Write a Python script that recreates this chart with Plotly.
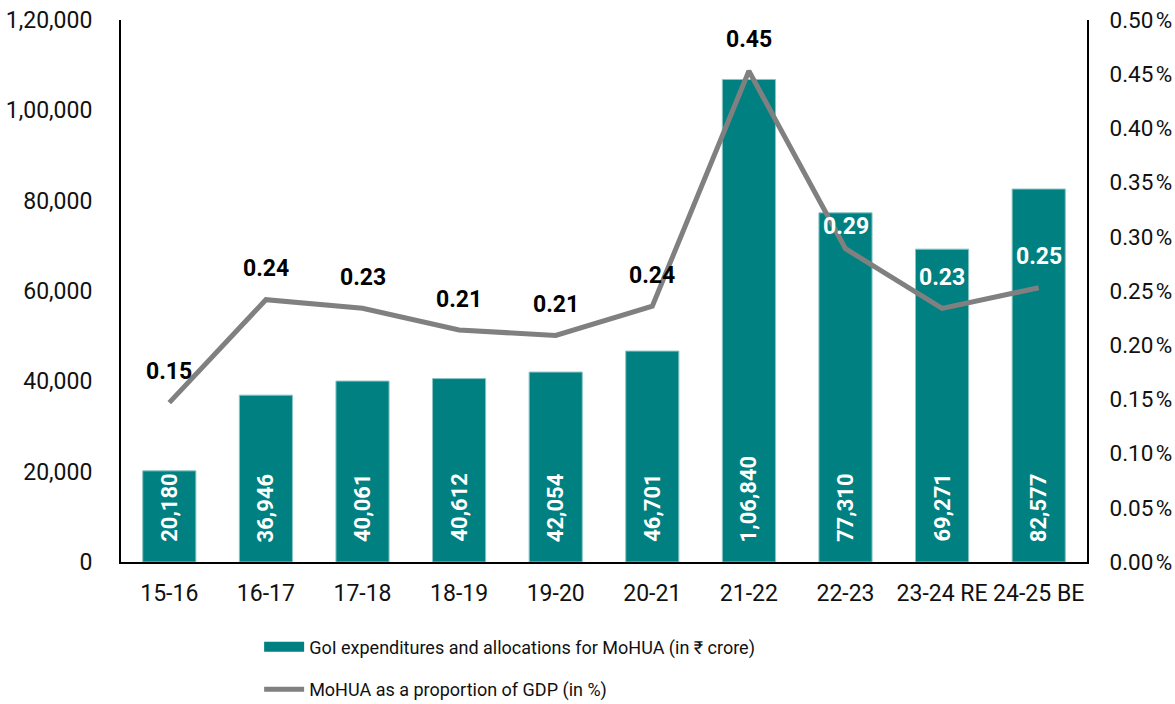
import plotly.graph_objects as go

categories = ["15-16", "16-17", "17-18", "18-19", "19-20", "20-21", "21-22", "22-23", "23-24 RE", "24-25 BE"]
expenditure = [20180, 36946, 40061, 40612, 42054, 46701, 106840, 77310, 69271, 82577]
expenditure_labels = ["20,180", "36,946", "40,061", "40,612", "42,054", "46,701", "1,06,840", "77,310", "69,271", "82,577"]
gdp_share = [0.147, 0.242, 0.234, 0.214, 0.209, 0.236, 0.453, 0.289, 0.234, 0.253]
label_colors = ["#000000"] * 7 + ["#ffffff"] * 3
label_shifts = [31, 31, 31, 31, 31, 31, 31, 22, 31, 31]

left_tickvals = [0, 20000, 40000, 60000, 80000, 100000, 120000]
left_ticktext = ["0", "20,000", "40,000", "60,000", "80,000", "1,00,000", "1,20,000"]
right_tickvals = [0.0, 0.05, 0.10, 0.15, 0.20, 0.25, 0.30, 0.35, 0.40, 0.45, 0.50]
right_ticktext = [f"{v:.2f}\u200a%" for v in right_tickvals]

FONT = "Roboto"
TEAL = "#008080"
GREY = "#808080"
BAR_NAME = "GoI expenditures and allocations for MoHUA (in ₹ crore)"
LINE_NAME = "MoHUA as a proportion of GDP (in %)"

fig = go.Figure()
fig.add_trace(go.Bar(
    x=categories, y=expenditure, name=BAR_NAME, showlegend=False,
    marker=dict(color=TEAL, line=dict(color="#8cc4c4", width=1)),
    hoverinfo="skip",
))
# legend proxy for the bars (wide rectangle swatch)
fig.add_trace(go.Scatter(
    x=[None], y=[None], name=BAR_NAME, mode="lines", legendgroup="a",
    line=dict(color=TEAL, width=12),
))
fig.add_trace(go.Scatter(
    x=categories, y=gdp_share, name=LINE_NAME, yaxis="y2", legendgroup="b",
    mode="lines", line=dict(color=GREY, width=5),
))

for c, v, t in zip(categories, expenditure, expenditure_labels):
    fig.add_annotation(x=c, y=0, xref="x", yref="y", text=f"<b>{t}</b>",
                       showarrow=False, textangle=-90, yanchor="bottom", yshift=18,
                       font=dict(family=FONT, size=22, color="white"))

for c, v, col, sh in zip(categories, gdp_share, label_colors, label_shifts):
    fig.add_annotation(x=c, y=v, xref="x", yref="y2", text=f"<b>{v:.2f}</b>",
                       showarrow=False, yshift=sh,
                       font=dict(family=FONT, size=23, color=col))

fig.update_layout(
    width=1175, height=704,
    margin=dict(l=121, r=88, t=20, b=142, autoexpand=False),
    plot_bgcolor="white", paper_bgcolor="white",
    font=dict(family=FONT, size=23, color="#111111"),
    bargap=0.45,
    showlegend=True,
    legend=dict(orientation="v", x=0.143, xanchor="left", y=-0.123, yanchor="top",
                font=dict(family=FONT, size=18, color="#111111"), tracegroupgap=16,
                traceorder="grouped", itemwidth=40),
    xaxis=dict(showline=True, linecolor="#000000", linewidth=2, ticks="", showgrid=False,
               tickfont=dict(size=23), tickangle=0, ticklabelstandoff=9, automargin=False),
    yaxis=dict(range=[0, 120000], tickvals=left_tickvals, ticktext=left_ticktext,
               showline=True, linecolor="#000000", linewidth=2, showgrid=False, zeroline=False,
               ticks="", tickfont=dict(size=23), ticklabelstandoff=22, automargin=False),
    yaxis2=dict(range=[0, 0.5], tickvals=right_tickvals, ticktext=right_ticktext,
                overlaying="y", side="right", showline=True, linecolor="#000000", linewidth=2,
                showgrid=False, zeroline=False, ticks="", tickfont=dict(size=22.5),
                ticklabelstandoff=16, automargin=False),
)

fig.write_html("out.html", config={"displayModeBar": False},
               post_script="document.body.style.margin='0';document.body.style.overflow='hidden';")
